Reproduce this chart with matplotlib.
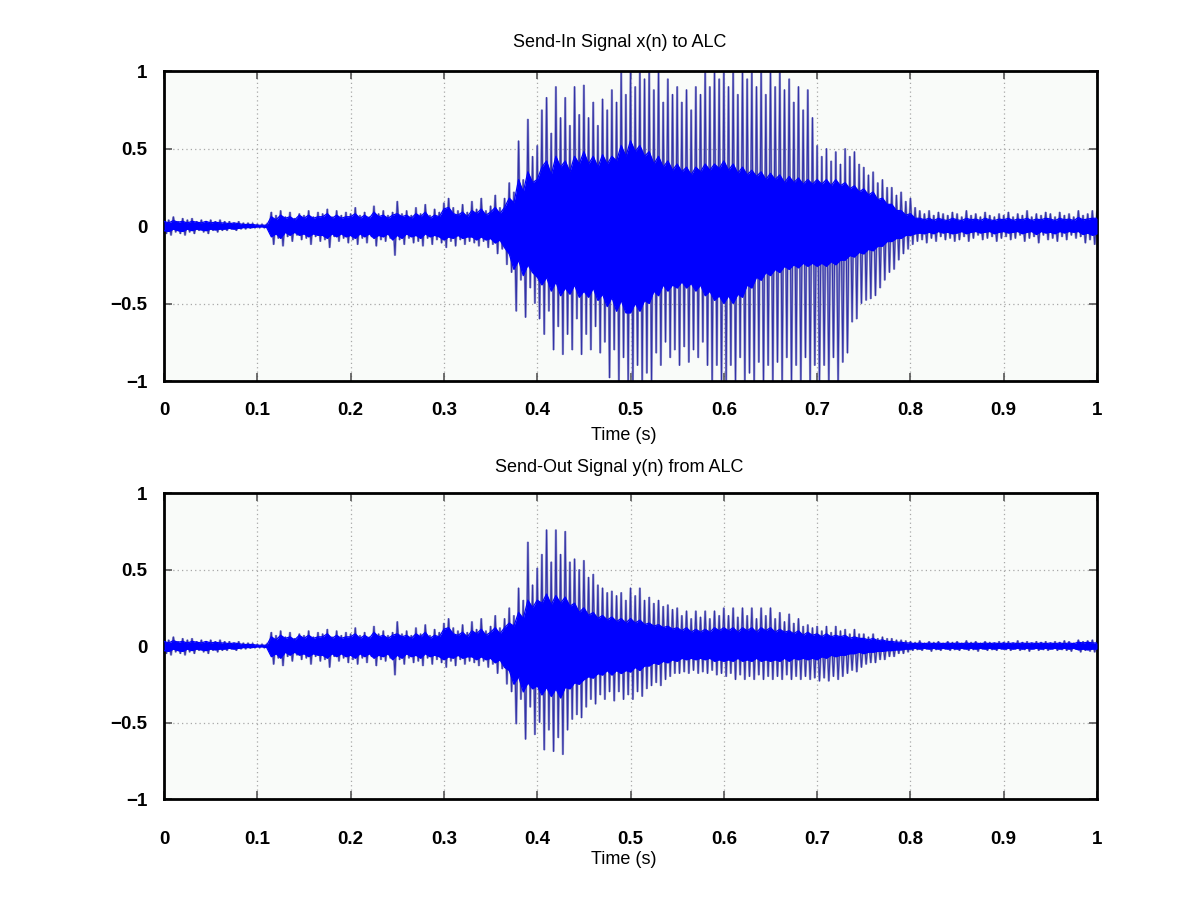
import numpy as np
import matplotlib
matplotlib.use("Agg")
import matplotlib.pyplot as plt

# ---------------- data ----------------
# Outer peaks: upper peaks at t = 0, 0.005, ..., 1.0 ; lower peaks at t = 0.0025, 0.0075, ...
x_hi = [
    0.05, 0.04, 0.06, 0.03, 0.05, 0.04, 0.05, 0.03, 0.04, 0.03,
    0.04, 0.03, 0.04, 0.03, 0.03, 0.02, 0.03, 0.02, 0.02, 0.015,
    0.01, 0.01, 0.01, 0.09, 0.07, 0.10, 0.06, 0.09, 0.05, 0.08,
    0.07, 0.10, 0.06, 0.09, 0.08, 0.11, 0.06, 0.10, 0.07, 0.09,
    0.08, 0.12, 0.07, 0.09, 0.06, 0.13, 0.08, 0.10, 0.07, 0.09,
    0.16, 0.08, 0.10, 0.07, 0.12, 0.08, 0.14, 0.07, 0.11, 0.09,
    0.15, 0.18, 0.12, 0.10, 0.14, 0.09, 0.16, 0.11, 0.18, 0.10,
    0.13, 0.20, 0.12, 0.18, 0.28, 0.22, 0.55, 0.30, 0.69, 0.45,
    0.52, 0.75, 0.83, 0.60, 0.90, 0.70, 0.83, 0.65, 0.90, 0.72,
    0.91, 0.70, 0.80, 0.65, 0.82, 0.75, 0.88, 0.80, 1.00, 0.85,
    1.00, 0.90, 1.00, 0.95, 1.00, 0.88, 1.00, 0.80, 0.95, 0.85,
    0.90, 0.80, 0.88, 0.75, 0.90, 0.85, 1.00, 0.90, 1.00, 0.95,
    1.00, 0.90, 1.00, 0.85, 1.00, 0.95, 1.00, 0.90, 1.00, 0.85,
    1.00, 0.90, 1.00, 0.88, 0.95, 0.80, 0.90, 0.75, 0.88, 0.70,
    0.52, 0.45, 0.50, 0.42, 0.48, 0.40, 0.50, 0.45, 0.48, 0.40,
    0.38, 0.33, 0.35, 0.28, 0.30, 0.25, 0.25, 0.20, 0.22, 0.16,
    0.18, 0.12, 0.10, 0.08, 0.10, 0.07, 0.09, 0.08, 0.07, 0.09,
    0.08, 0.06, 0.10, 0.07, 0.08, 0.06, 0.09, 0.07, 0.06, 0.08,
    0.07, 0.09, 0.06, 0.08, 0.07, 0.10, 0.06, 0.08, 0.07, 0.09,
    0.08, 0.06, 0.09, 0.07, 0.08, 0.06, 0.10, 0.07, 0.08, 0.10,
    0.09,
]
x_lo = [
    -0.05, -0.06, -0.04, -0.05, -0.06, -0.04, -0.05, -0.03, -0.04, -0.05,
    -0.03, -0.04, -0.03, -0.03, -0.02, -0.03, -0.02, -0.02, -0.015, -0.01,
    -0.01, -0.01, -0.02, -0.12, -0.08, -0.13, -0.07, -0.10, -0.06, -0.09,
    -0.08, -0.12, -0.07, -0.10, -0.09, -0.14, -0.07, -0.10, -0.08, -0.11,
    -0.09, -0.12, -0.08, -0.11, -0.07, -0.13, -0.09, -0.10, -0.08, -0.19,
    -0.09, -0.12, -0.08, -0.11, -0.10, -0.13, -0.08, -0.12, -0.09, -0.11,
    -0.14, -0.10, -0.13, -0.09, -0.12, -0.10, -0.11, -0.13, -0.10, -0.14,
    -0.12, -0.18, -0.15, -0.25, -0.30, -0.55, -0.35, -0.59, -0.40, -0.50,
    -0.60, -0.70, -0.55, -0.80, -0.65, -0.83, -0.70, -0.80, -0.60, -0.83,
    -0.70, -0.80, -0.65, -0.82, -0.75, -0.98, -0.80, -1.00, -0.85, -1.00,
    -1.00, -0.90, -1.00, -0.95, -1.00, -0.82, -0.90, -0.75, -0.85, -0.80,
    -0.90, -0.78, -0.88, -0.80, -0.85, -0.75, -0.90, -1.00, -0.90, -1.00,
    -1.00, -0.90, -1.00, -0.85, -1.00, -0.95, -1.00, -0.88, -1.00, -0.90,
    -1.00, -0.88, -1.00, -0.85, -1.00, -0.90, -1.00, -0.85, -1.00, -0.90,
    -1.00, -0.90, -1.00, -0.85, -1.00, -0.88, -0.82, -0.62, -0.60, -0.50,
    -0.48, -0.47, -0.45, -0.40, -0.35, -0.30, -0.28, -0.22, -0.18, -0.15,
    -0.12, -0.10, -0.09, -0.11, -0.08, -0.10, -0.07, -0.09, -0.08, -0.10,
    -0.09, -0.07, -0.10, -0.08, -0.06, -0.09, -0.08, -0.07, -0.10, -0.08,
    -0.07, -0.09, -0.08, -0.06, -0.10, -0.08, -0.07, -0.11, -0.06, -0.09,
    -0.08, -0.10, -0.07, -0.09, -0.06, -0.08, -0.07, -0.11, -0.09, -0.12,
]
# Dense core envelope at t = 0, 0.005, ..., 1.0
x_core_hi = [
    0.03, 0.02, 0.035, 0.025, 0.03, 0.02, 0.03, 0.025, 0.02, 0.03,
    0.02, 0.025, 0.02, 0.02, 0.015, 0.02, 0.015, 0.01, 0.01, 0.01,
    0.005, 0.005, 0.005, 0.06, 0.04, 0.07, 0.05, 0.06, 0.04, 0.07,
    0.05, 0.07, 0.05, 0.06, 0.06, 0.08, 0.05, 0.07, 0.05, 0.06,
    0.06, 0.08, 0.05, 0.07, 0.05, 0.09, 0.06, 0.07, 0.05, 0.07,
    0.08, 0.06, 0.07, 0.05, 0.08, 0.06, 0.09, 0.05, 0.07, 0.06,
    0.11, 0.12, 0.08, 0.07, 0.09, 0.06, 0.10, 0.08, 0.11, 0.07,
    0.09, 0.12, 0.08, 0.12, 0.18, 0.15, 0.30, 0.22, 0.35, 0.28,
    0.30, 0.38, 0.42, 0.33, 0.45, 0.38, 0.42, 0.35, 0.45, 0.40,
    0.48, 0.40, 0.45, 0.38, 0.46, 0.40, 0.45, 0.42, 0.52, 0.45,
    0.55, 0.48, 0.52, 0.45, 0.48, 0.40, 0.45, 0.38, 0.42, 0.36,
    0.40, 0.35, 0.38, 0.33, 0.38, 0.35, 0.40, 0.36, 0.40, 0.37,
    0.42, 0.36, 0.40, 0.34, 0.38, 0.33, 0.36, 0.32, 0.35, 0.30,
    0.34, 0.30, 0.33, 0.28, 0.32, 0.28, 0.31, 0.27, 0.30, 0.27,
    0.30, 0.27, 0.30, 0.26, 0.30, 0.26, 0.28, 0.24, 0.26, 0.22,
    0.24, 0.20, 0.22, 0.17, 0.18, 0.14, 0.14, 0.10, 0.10, 0.07,
    0.08, 0.05, 0.05, 0.04, 0.05, 0.035, 0.05, 0.04, 0.035, 0.05,
    0.04, 0.035, 0.05, 0.04, 0.045, 0.035, 0.05, 0.04, 0.035, 0.045,
    0.04, 0.05, 0.035, 0.045, 0.04, 0.05, 0.035, 0.045, 0.04, 0.05,
    0.045, 0.035, 0.05, 0.04, 0.045, 0.035, 0.055, 0.04, 0.045, 0.05,
    0.05,
]
x_core_lo = [
    -0.03, -0.035, -0.02, -0.03, -0.035, -0.02, -0.03, -0.02, -0.025, -0.03,
    -0.02, -0.025, -0.02, -0.02, -0.015, -0.02, -0.015, -0.01, -0.01, -0.01,
    -0.005, -0.005, -0.01, -0.07, -0.05, -0.08, -0.04, -0.06, -0.04, -0.06,
    -0.05, -0.07, -0.05, -0.06, -0.06, -0.08, -0.05, -0.07, -0.05, -0.07,
    -0.06, -0.08, -0.05, -0.07, -0.05, -0.08, -0.06, -0.07, -0.05, -0.09,
    -0.06, -0.08, -0.05, -0.07, -0.06, -0.08, -0.05, -0.07, -0.06, -0.07,
    -0.09, -0.07, -0.08, -0.06, -0.08, -0.07, -0.07, -0.09, -0.07, -0.09,
    -0.08, -0.11, -0.09, -0.14, -0.18, -0.28, -0.22, -0.32, -0.25, -0.30,
    -0.33, -0.38, -0.33, -0.42, -0.36, -0.45, -0.40, -0.44, -0.38, -0.46,
    -0.42, -0.46, -0.40, -0.48, -0.44, -0.52, -0.46, -0.55, -0.48, -0.56,
    -0.56, -0.50, -0.55, -0.48, -0.50, -0.42, -0.45, -0.38, -0.42, -0.38,
    -0.40, -0.36, -0.40, -0.37, -0.42, -0.38, -0.45, -0.42, -0.48, -0.45,
    -0.50, -0.45, -0.50, -0.44, -0.46, -0.38, -0.40, -0.33, -0.35, -0.30,
    -0.32, -0.28, -0.30, -0.26, -0.28, -0.25, -0.27, -0.24, -0.26, -0.24,
    -0.26, -0.24, -0.26, -0.23, -0.25, -0.22, -0.22, -0.19, -0.20, -0.17,
    -0.18, -0.15, -0.16, -0.13, -0.13, -0.10, -0.10, -0.08, -0.08, -0.06,
    -0.06, -0.05, -0.045, -0.05, -0.04, -0.05, -0.035, -0.045, -0.04, -0.05,
    -0.045, -0.035, -0.05, -0.04, -0.035, -0.045, -0.04, -0.035, -0.05, -0.04,
    -0.035, -0.045, -0.04, -0.035, -0.05, -0.04, -0.035, -0.055, -0.035, -0.045,
    -0.04, -0.05, -0.035, -0.045, -0.035, -0.04, -0.035, -0.055, -0.045, -0.06,
    -0.05,
]

y_hi = [
    0.05, 0.04, 0.06, 0.03, 0.05, 0.04, 0.05, 0.03, 0.04, 0.03,
    0.04, 0.03, 0.04, 0.03, 0.03, 0.02, 0.03, 0.02, 0.02, 0.015,
    0.01, 0.01, 0.01, 0.09, 0.07, 0.10, 0.06, 0.09, 0.05, 0.08,
    0.07, 0.10, 0.06, 0.09, 0.08, 0.11, 0.06, 0.10, 0.07, 0.09,
    0.08, 0.12, 0.07, 0.09, 0.06, 0.13, 0.08, 0.10, 0.07, 0.09,
    0.16, 0.08, 0.10, 0.07, 0.12, 0.08, 0.14, 0.07, 0.11, 0.09,
    0.15, 0.18, 0.12, 0.10, 0.14, 0.09, 0.16, 0.11, 0.18, 0.10,
    0.13, 0.20, 0.12, 0.18, 0.25, 0.20, 0.38, 0.30, 0.68, 0.40,
    0.51, 0.60, 0.76, 0.55, 0.76, 0.60, 0.75, 0.55, 0.57, 0.50,
    0.56, 0.45, 0.47, 0.40, 0.38, 0.35, 0.36, 0.33, 0.35, 0.30,
    0.38, 0.33, 0.38, 0.30, 0.32, 0.28, 0.30, 0.26, 0.27, 0.24,
    0.25, 0.20, 0.23, 0.18, 0.23, 0.19, 0.23, 0.18, 0.23, 0.20,
    0.25, 0.20, 0.25, 0.19, 0.25, 0.20, 0.25, 0.18, 0.25, 0.20,
    0.25, 0.18, 0.22, 0.16, 0.21, 0.15, 0.18, 0.13, 0.14, 0.12,
    0.13, 0.10, 0.13, 0.09, 0.13, 0.10, 0.11, 0.08, 0.11, 0.08,
    0.08, 0.06, 0.08, 0.05, 0.06, 0.05, 0.05, 0.04, 0.04, 0.035,
    0.03, 0.025, 0.035, 0.02, 0.03, 0.025, 0.03, 0.02, 0.03, 0.025,
    0.03, 0.02, 0.035, 0.025, 0.03, 0.02, 0.03, 0.025, 0.02, 0.03,
    0.025, 0.03, 0.02, 0.035, 0.025, 0.03, 0.02, 0.03, 0.025, 0.03,
    0.02, 0.03, 0.025, 0.035, 0.03, 0.02, 0.04, 0.03, 0.035, 0.04,
    0.03,
]
y_lo = [
    -0.05, -0.06, -0.04, -0.05, -0.06, -0.04, -0.05, -0.03, -0.04, -0.05,
    -0.03, -0.04, -0.03, -0.03, -0.02, -0.03, -0.02, -0.02, -0.015, -0.01,
    -0.01, -0.01, -0.02, -0.12, -0.08, -0.13, -0.07, -0.10, -0.06, -0.09,
    -0.08, -0.12, -0.07, -0.10, -0.09, -0.14, -0.07, -0.10, -0.08, -0.11,
    -0.09, -0.12, -0.08, -0.11, -0.07, -0.13, -0.09, -0.10, -0.08, -0.19,
    -0.09, -0.12, -0.08, -0.11, -0.10, -0.13, -0.08, -0.12, -0.09, -0.11,
    -0.14, -0.10, -0.13, -0.09, -0.12, -0.10, -0.11, -0.13, -0.10, -0.14,
    -0.12, -0.18, -0.15, -0.25, -0.30, -0.51, -0.35, -0.61, -0.40, -0.58,
    -0.50, -0.68, -0.55, -0.69, -0.60, -0.71, -0.55, -0.48, -0.45, -0.47,
    -0.40, -0.35, -0.38, -0.32, -0.35, -0.30, -0.36, -0.30, -0.35, -0.32,
    -0.35, -0.30, -0.33, -0.28, -0.26, -0.24, -0.26, -0.22, -0.20, -0.18,
    -0.18, -0.17, -0.18, -0.16, -0.18, -0.17, -0.18, -0.16, -0.19, -0.18,
    -0.20, -0.18, -0.22, -0.19, -0.22, -0.20, -0.22, -0.19, -0.22, -0.20,
    -0.22, -0.20, -0.22, -0.19, -0.22, -0.20, -0.22, -0.20, -0.22, -0.21,
    -0.23, -0.21, -0.23, -0.20, -0.22, -0.20, -0.18, -0.16, -0.17, -0.14,
    -0.12, -0.11, -0.11, -0.09, -0.09, -0.07, -0.07, -0.05, -0.05, -0.04,
    -0.03, -0.025, -0.03, -0.02, -0.035, -0.025, -0.03, -0.02, -0.03, -0.025,
    -0.03, -0.02, -0.03, -0.025, -0.035, -0.02, -0.03, -0.025, -0.03, -0.02,
    -0.025, -0.03, -0.02, -0.03, -0.025, -0.035, -0.02, -0.03, -0.025, -0.03,
    -0.02, -0.03, -0.025, -0.03, -0.035, -0.02, -0.04, -0.03, -0.035, -0.04,
]
y_core_hi = [
    0.03, 0.02, 0.035, 0.025, 0.03, 0.02, 0.03, 0.025, 0.02, 0.03,
    0.02, 0.025, 0.02, 0.02, 0.015, 0.02, 0.015, 0.01, 0.01, 0.01,
    0.005, 0.005, 0.005, 0.06, 0.04, 0.07, 0.05, 0.06, 0.04, 0.07,
    0.05, 0.07, 0.05, 0.06, 0.06, 0.08, 0.05, 0.07, 0.05, 0.06,
    0.06, 0.08, 0.05, 0.07, 0.05, 0.09, 0.06, 0.07, 0.05, 0.07,
    0.08, 0.06, 0.07, 0.05, 0.08, 0.06, 0.09, 0.05, 0.07, 0.06,
    0.11, 0.12, 0.08, 0.07, 0.09, 0.06, 0.10, 0.08, 0.11, 0.07,
    0.09, 0.12, 0.08, 0.12, 0.15, 0.13, 0.22, 0.18, 0.30, 0.25,
    0.30, 0.28, 0.34, 0.27, 0.33, 0.28, 0.32, 0.26, 0.28, 0.22,
    0.25, 0.20, 0.22, 0.18, 0.20, 0.17, 0.19, 0.16, 0.18, 0.15,
    0.18, 0.15, 0.17, 0.14, 0.15, 0.13, 0.14, 0.12, 0.13, 0.11,
    0.12, 0.10, 0.12, 0.09, 0.11, 0.09, 0.11, 0.09, 0.12, 0.10,
    0.12, 0.10, 0.12, 0.09, 0.12, 0.10, 0.12, 0.09, 0.12, 0.10,
    0.12, 0.09, 0.11, 0.09, 0.10, 0.08, 0.10, 0.07, 0.09, 0.07,
    0.08, 0.06, 0.08, 0.06, 0.07, 0.06, 0.07, 0.05, 0.06, 0.05,
    0.05, 0.04, 0.05, 0.035, 0.04, 0.03, 0.03, 0.025, 0.025, 0.02,
    0.02, 0.015, 0.02, 0.015, 0.02, 0.015, 0.02, 0.015, 0.02, 0.015,
    0.02, 0.015, 0.02, 0.015, 0.02, 0.015, 0.02, 0.015, 0.02, 0.015,
    0.02, 0.015, 0.02, 0.015, 0.02, 0.015, 0.02, 0.015, 0.02, 0.015,
    0.02, 0.015, 0.02, 0.015, 0.02, 0.015, 0.025, 0.02, 0.025, 0.02,
    0.02,
]
y_core_lo = [
    -0.03, -0.035, -0.02, -0.03, -0.035, -0.02, -0.03, -0.02, -0.025, -0.03,
    -0.02, -0.025, -0.02, -0.02, -0.015, -0.02, -0.015, -0.01, -0.01, -0.01,
    -0.005, -0.005, -0.01, -0.07, -0.05, -0.08, -0.04, -0.06, -0.04, -0.06,
    -0.05, -0.07, -0.05, -0.06, -0.06, -0.08, -0.05, -0.07, -0.05, -0.07,
    -0.06, -0.08, -0.05, -0.07, -0.05, -0.08, -0.06, -0.07, -0.05, -0.09,
    -0.06, -0.08, -0.05, -0.07, -0.06, -0.08, -0.05, -0.07, -0.06, -0.07,
    -0.09, -0.07, -0.08, -0.06, -0.08, -0.07, -0.07, -0.09, -0.07, -0.09,
    -0.08, -0.11, -0.09, -0.14, -0.16, -0.25, -0.20, -0.30, -0.24, -0.28,
    -0.26, -0.32, -0.27, -0.33, -0.28, -0.34, -0.27, -0.28, -0.24, -0.25,
    -0.22, -0.20, -0.21, -0.18, -0.19, -0.16, -0.19, -0.16, -0.18, -0.16,
    -0.17, -0.14, -0.16, -0.13, -0.13, -0.11, -0.12, -0.10, -0.11, -0.09,
    -0.10, -0.08, -0.09, -0.08, -0.09, -0.08, -0.09, -0.08, -0.10, -0.09,
    -0.10, -0.09, -0.10, -0.08, -0.10, -0.09, -0.10, -0.08, -0.10, -0.09,
    -0.10, -0.09, -0.10, -0.08, -0.10, -0.08, -0.09, -0.08, -0.09, -0.08,
    -0.09, -0.07, -0.08, -0.06, -0.07, -0.06, -0.06, -0.05, -0.05, -0.04,
    -0.05, -0.04, -0.04, -0.035, -0.035, -0.03, -0.03, -0.025, -0.025, -0.02,
    -0.02, -0.015, -0.02, -0.015, -0.02, -0.015, -0.02, -0.015, -0.02, -0.015,
    -0.02, -0.015, -0.02, -0.015, -0.02, -0.015, -0.02, -0.015, -0.02, -0.015,
    -0.02, -0.015, -0.02, -0.015, -0.02, -0.015, -0.02, -0.015, -0.02, -0.015,
    -0.02, -0.015, -0.02, -0.015, -0.02, -0.015, -0.025, -0.02, -0.025, -0.02,
    -0.02,
]

titles = ["Send-In Signal x(n) to ALC", "Send-Out Signal y(n) from ALC"]
xlabel = "Time (s)"
xticks = [0, 0.1, 0.2, 0.3, 0.4, 0.5, 0.6, 0.7, 0.8, 0.9, 1]
xticklabels = ["0", "0.1", "0.2", "0.3", "0.4", "0.5", "0.6", "0.7", "0.8", "0.9", "1"]
yticks = [-1, -0.5, 0, 0.5, 1]
yticklabels = ["\u22121", "\u22120.5", "0", "0.5", "1"]

# ---------------- drawing ----------------
plt.rcParams['font.family'] = ['Liberation Sans', 'DejaVu Sans']

fig = plt.figure(figsize=(12, 8.98), dpi=100)
fig.patch.set_facecolor('white')

ax_pos = [[0.1367, 0.5757, 0.7775, 0.3452],
          [0.1367, 0.1102, 0.7775, 0.3408]]
tick_pads = [15, 23]
label_pads = [6, 2]
title_pads = [17, 15]

panels = [(x_hi, x_lo, x_core_hi, x_core_lo), (y_hi, y_lo, y_core_hi, y_core_lo)]

for i, (hi, lo, chi, clo) in enumerate(panels):
    ax = fig.add_axes(ax_pos[i])
    ax.set_facecolor('#f9fbf9')
    hi = np.asarray(hi)
    lo = np.asarray(lo)
    t_hi = np.arange(len(hi)) * 0.005
    t_lo = np.arange(len(lo)) * 0.005 + 0.0025
    n = len(lo)
    tt = np.empty(2 * n + 1)
    vv = np.empty(2 * n + 1)
    tt[0:2 * n:2] = t_hi[:n]
    tt[1:2 * n:2] = t_lo
    tt[-1] = t_hi[n]
    vv[0:2 * n:2] = hi[:n]
    vv[1:2 * n:2] = lo
    vv[-1] = hi[n]
    chi = np.asarray(chi)
    clo = np.asarray(clo)
    t_core = np.arange(len(chi)) * 0.005
    # outer excursions (lighter halo + darker stroke)
    ax.plot(tt, vv, color='#8c8cc8', lw=1.6, zorder=2, solid_joinstyle='miter')
    ax.plot(tt, vv, color='#3232a8', lw=0.7, zorder=2.5)
    # dense core of the waveform
    ax.fill_between(t_core, chi, clo, color='#0000ff', lw=0, zorder=3)
    ax.plot(t_core, chi, color='#0000ff', lw=0.9, zorder=3)
    ax.plot(t_core, clo, color='#0000ff', lw=0.9, zorder=3)

    ax.set_xlim(0, 1)
    ax.set_ylim(-1, 1)
    ax.set_xticks(xticks)
    ax.set_xticklabels(xticklabels)
    ax.set_yticks(yticks)
    ax.set_yticklabels(yticklabels)
    ax.grid(True, color='#a8a8a8', linestyle=(0, (1, 2.5)), lw=0.9)
    ax.set_axisbelow(True)
    ax.tick_params(direction='in', length=6, width=1.2, color='#555555',
                   top=True, right=True, labelsize=13.5)
    ax.tick_params(axis='x', pad=tick_pads[i])
    ax.tick_params(axis='y', pad=12)
    for lab in ax.get_xticklabels() + ax.get_yticklabels():
        lab.set_fontweight('bold')
    for sp in ax.spines.values():
        sp.set_linewidth(2.0)
        sp.set_color('black')
    ax.set_title(titles[i], fontsize=13, pad=title_pads[i], x=0.488)
    ax.set_xlabel(xlabel, fontsize=13, labelpad=label_pads[i], x=0.493)

fig.savefig('out.png', dpi=100, facecolor='white')
